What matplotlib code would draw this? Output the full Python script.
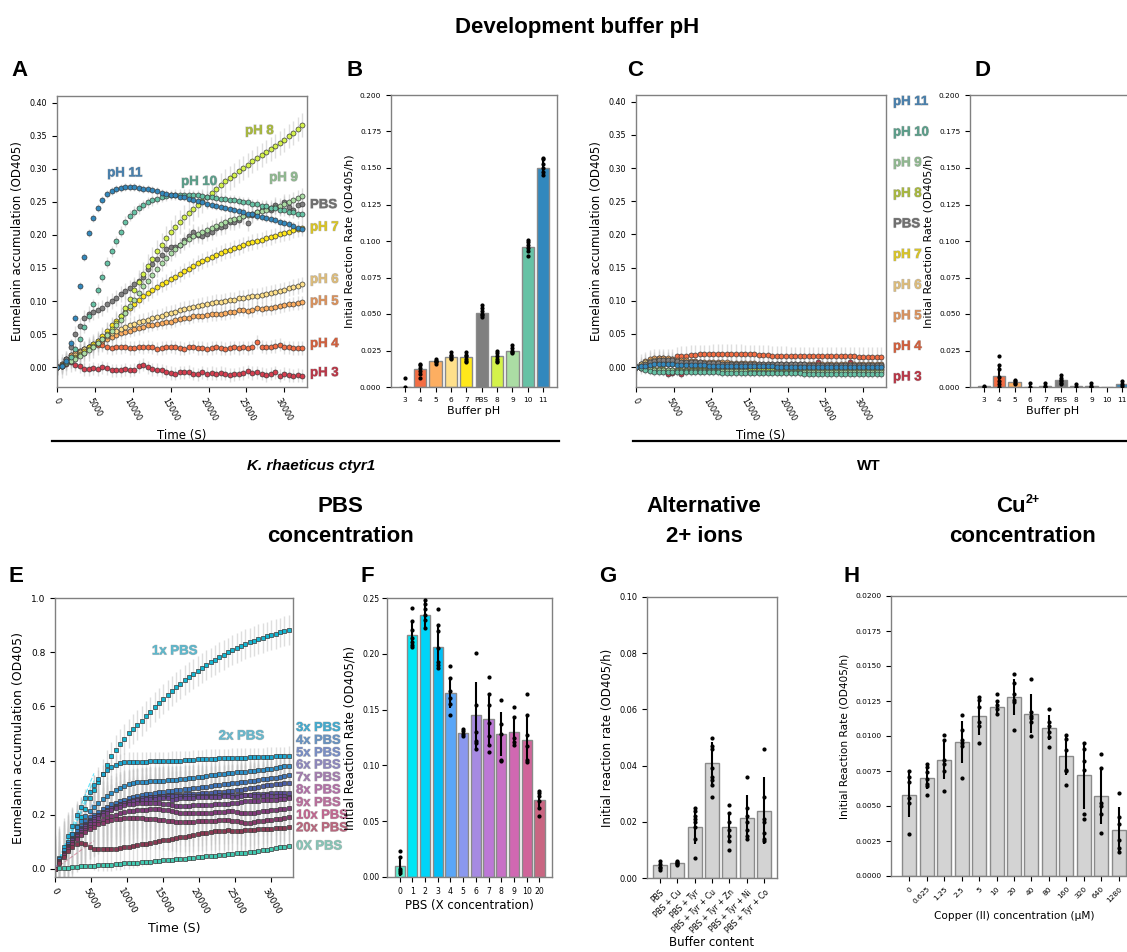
import numpy as np
import matplotlib.pyplot as plt
import matplotlib.patheffects as pe
from matplotlib.ticker import FormatStrFormatter

plt.rcParams['font.family'] = 'DejaVu Sans'
plt.rcParams['axes.edgecolor'] = '#808080'
plt.rcParams['axes.linewidth'] = 1.0

W, H = 1127, 952
STEP = 600  # seconds between plate reads

# ---------------- panel A: K. rhaeticus ctyr1, buffer pH time courses
ph_names = ["pH 3", "pH 4", "pH 5", "pH 6", "pH 7", "PBS", "pH 8", "pH 9", "pH 10", "pH 11"]
ph_colors = ['#d53e4f', '#f46d43', '#fdae61', '#fee08b', '#ffe81a', '#808080',
             '#d4f24a', '#abdda4', '#66c2a5', '#3288bd']
ph_text_colors = ['#b83848', '#d0603e', '#d8925e', '#dcbc7c', '#d8c428', '#707070',
                  '#a8b840', '#90b890', '#5c9e8a', '#4a80ac']

a_ph3 = [0, 0.002, 0.005, 0.008, 0.004, 0.001, -0.003, -0.003, -0.002, -0.003,
         0.000, -0.002, -0.005, -0.005, -0.005, -0.003, -0.005, -0.004, 0.001, 0.004,
         0.000, -0.003, -0.004, -0.005, -0.007, -0.009, -0.010, -0.008, -0.008, -0.007,
         -0.010, -0.011, -0.008, -0.010, -0.009, -0.010, -0.009, -0.010, -0.012, -0.011,
         -0.010, -0.009, -0.006, -0.009, -0.008, -0.010, -0.012, -0.010, -0.008, -0.013,
         -0.010, -0.012, -0.013, -0.012, -0.013]
a_ph4 = [0, 0.005, 0.012, 0.018, 0.022, 0.025, 0.028, 0.030, 0.032, 0.033,
         0.033, 0.030, 0.029, 0.030, 0.030, 0.031, 0.029, 0.029, 0.031, 0.030,
         0.031, 0.030, 0.028, 0.029, 0.030, 0.031, 0.030, 0.029, 0.028, 0.030,
         0.031, 0.029, 0.029, 0.028, 0.029, 0.030, 0.029, 0.028, 0.029, 0.030,
         0.029, 0.030, 0.029, 0.030, 0.038, 0.031, 0.030, 0.031, 0.032, 0.034,
         0.030, 0.030, 0.029, 0.029, 0.029]
a_ph5 = [0, 0.005, 0.012, 0.018, 0.022, 0.025, 0.028, 0.031, 0.034, 0.037,
         0.040, 0.043, 0.046, 0.049, 0.051, 0.053, 0.055, 0.057, 0.059, 0.061,
         0.063, 0.064, 0.066, 0.067, 0.068, 0.069, 0.071, 0.073, 0.075, 0.075,
         0.077, 0.078, 0.078, 0.079, 0.080, 0.080, 0.081, 0.082, 0.083, 0.084,
         0.087, 0.087, 0.085, 0.086, 0.090, 0.088, 0.089, 0.089, 0.091, 0.092,
         0.094, 0.095, 0.096, 0.097, 0.098]
a_ph6 = [0, 0.004, 0.010, 0.015, 0.019, 0.023, 0.027, 0.031, 0.035, 0.039,
         0.043, 0.047, 0.051, 0.055, 0.058, 0.061, 0.064, 0.066, 0.068, 0.070,
         0.072, 0.074, 0.076, 0.078, 0.080, 0.082, 0.084, 0.086, 0.088, 0.089,
         0.091, 0.092, 0.094, 0.095, 0.097, 0.098, 0.099, 0.100, 0.101, 0.102,
         0.104, 0.105, 0.106, 0.107, 0.108, 0.109, 0.110, 0.112, 0.113, 0.115,
         0.117, 0.119, 0.121, 0.123, 0.125]
a_ph7 = [0, 0.003, 0.008, 0.012, 0.016, 0.020, 0.025, 0.030, 0.035, 0.040,
         0.047, 0.055, 0.063, 0.070, 0.077, 0.084, 0.090, 0.096, 0.102, 0.107,
         0.112, 0.117, 0.121, 0.125, 0.129, 0.133, 0.137, 0.141, 0.145, 0.149,
         0.153, 0.157, 0.160, 0.163, 0.166, 0.169, 0.172, 0.175, 0.177, 0.180,
         0.182, 0.185, 0.187, 0.189, 0.191, 0.193, 0.195, 0.197, 0.199, 0.201,
         0.203, 0.205, 0.207, 0.209, 0.211]
a_pbs = [0, 0.002, 0.012, 0.030, 0.050, 0.062, 0.075, 0.080, 0.083, 0.086,
         0.090, 0.095, 0.100, 0.105, 0.110, 0.115, 0.120, 0.125, 0.130, 0.137,
         0.148, 0.156, 0.163, 0.170, 0.178, 0.182, 0.182, 0.184, 0.192, 0.199,
         0.205, 0.200, 0.198, 0.202, 0.205, 0.211, 0.212, 0.213, 0.220, 0.220,
         0.222, 0.228, 0.218, 0.230, 0.235, 0.238, 0.240, 0.238, 0.245, 0.240,
         0.250, 0.242, 0.238, 0.245, 0.246]
a_ph8 = [0, 0.002, 0.006, 0.010, 0.014, 0.018, 0.022, 0.027, 0.032, 0.037,
         0.043, 0.050, 0.058, 0.067, 0.078, 0.090, 0.103, 0.116, 0.129, 0.141,
         0.153, 0.164, 0.175, 0.185, 0.195, 0.204, 0.212, 0.220, 0.227, 0.233,
         0.239, 0.245, 0.251, 0.257, 0.263, 0.269, 0.275, 0.281, 0.286, 0.291,
         0.296, 0.301, 0.306, 0.311, 0.316, 0.321, 0.326, 0.330, 0.335, 0.339,
         0.344, 0.349, 0.354, 0.360, 0.366]
a_ph9 = [0, 0.002, 0.006, 0.010, 0.013, 0.017, 0.021, 0.026, 0.031, 0.036,
         0.042, 0.048, 0.055, 0.063, 0.072, 0.082, 0.092, 0.102, 0.112, 0.122,
         0.131, 0.140, 0.149, 0.157, 0.165, 0.172, 0.178, 0.184, 0.189, 0.194,
         0.198, 0.202, 0.205, 0.208, 0.211, 0.214, 0.217, 0.219, 0.222, 0.224,
         0.226, 0.228, 0.230, 0.232, 0.234, 0.236, 0.238, 0.240, 0.242, 0.244,
         0.247, 0.250, 0.253, 0.256, 0.259]
a_ph10 = [0, 0.002, 0.008, 0.016, 0.028, 0.042, 0.060, 0.078, 0.095, 0.117,
          0.137, 0.158, 0.175, 0.190, 0.205, 0.220, 0.229, 0.235, 0.240, 0.245,
          0.249, 0.252, 0.255, 0.257, 0.259, 0.260, 0.261, 0.261, 0.261, 0.261,
          0.260, 0.260, 0.259, 0.258, 0.257, 0.256, 0.255, 0.254, 0.253, 0.252,
          0.251, 0.250, 0.249, 0.247, 0.246, 0.244, 0.243, 0.241, 0.240, 0.238,
          0.237, 0.235, 0.234, 0.232, 0.231]
a_ph11 = [0, 0.001, 0.010, 0.036, 0.075, 0.123, 0.167, 0.203, 0.225, 0.241,
          0.253, 0.262, 0.267, 0.270, 0.271, 0.272, 0.272, 0.272, 0.271, 0.270,
          0.269, 0.268, 0.266, 0.264, 0.262, 0.261, 0.260, 0.258, 0.257, 0.255,
          0.253, 0.251, 0.249, 0.247, 0.245, 0.244, 0.242, 0.241, 0.239, 0.237,
          0.236, 0.234, 0.232, 0.231, 0.229, 0.227, 0.226, 0.224, 0.222, 0.220,
          0.218, 0.216, 0.214, 0.211, 0.209]
a_series = [a_ph3, a_ph4, a_ph5, a_ph6, a_ph7, a_pbs, a_ph8, a_ph9, a_ph10, a_ph11]
a_err = [0.010, 0.010, 0.010, 0.012, 0.012, 0.012, 0.018, 0.012, 0.008, 0.006]

# ---------------- panel B: initial rates, ctyr1
b_labels = ["3", "4", "5", "6", "7", "PBS", "8", "9", "10", "11"]
b_heights = [0.0, 0.0125, 0.0175, 0.0205, 0.0205, 0.051, 0.021, 0.025, 0.096, 0.150]
b_err = [0.0, 0.004, 0.001, 0.002, 0.003, 0.004, 0.003, 0.003, 0.004, 0.005]
b_dots = [[0.006, 0.0],
          [0.016, 0.015, 0.013, 0.011, 0.009, 0.006],
          [0.019, 0.018, 0.017, 0.016, 0.018],
          [0.024, 0.022, 0.021, 0.020, 0.019],
          [0.024, 0.022, 0.021, 0.019, 0.018, 0.017],
          [0.056, 0.054, 0.052, 0.050, 0.049, 0.048],
          [0.025, 0.023, 0.021, 0.019, 0.018, 0.017],
          [0.029, 0.027, 0.025, 0.024, 0.023],
          [0.101, 0.099, 0.097, 0.095, 0.093, 0.090],
          [0.157, 0.156, 0.153, 0.150, 0.147, 0.145]]

# ---------------- panel C: WT, buffer pH time courses
c_ph3 = [0.000, -0.001, -0.002, -0.003, -0.004, -0.004, -0.006, -0.011, -0.009, -0.004,
         -0.011, -0.005, -0.004, -0.005, -0.004, -0.004, -0.004, -0.004, -0.003, -0.003,
         -0.003, -0.004, -0.003, -0.003, -0.002, -0.003, -0.003, -0.004, -0.003, -0.003,
         -0.003, -0.002, -0.003, -0.003, -0.004, -0.003, -0.003, -0.003, -0.002, -0.003,
         0.007, -0.003, -0.003, -0.004, -0.003, -0.003, -0.003, 0.008, -0.003, -0.003,
         -0.002, -0.003, -0.003, -0.004, -0.003]
c_ph4 = [0.000, 0.004, 0.008, 0.011, 0.012, 0.013, 0.013, 0.012, 0.012, 0.016,
         0.017, 0.017, 0.018, 0.018, 0.019, 0.019, 0.019, 0.020, 0.020, 0.020,
         0.020, 0.020, 0.020, 0.020, 0.019, 0.019, 0.019, 0.018, 0.018, 0.018,
         0.017, 0.017, 0.017, 0.017, 0.016, 0.016, 0.016, 0.016, 0.016, 0.016,
         0.016, 0.016, 0.016, 0.016, 0.016, 0.016, 0.016, 0.016, 0.016, 0.015,
         0.015, 0.015, 0.015, 0.015, 0.015]
c_ph5 = [0.000, 0.005, 0.009, 0.012, 0.013, 0.014, 0.014, 0.013, 0.012, 0.011,
         0.010, 0.010, 0.009, 0.009, 0.008, 0.008, 0.008, 0.007, 0.007, 0.007,
         0.007, 0.006, 0.006, 0.006, 0.006, 0.006, 0.006, 0.005, 0.005, 0.005,
         0.005, 0.005, 0.005, 0.005, 0.005, 0.005, 0.005, 0.005, 0.004, 0.004,
         0.004, 0.004, 0.004, 0.004, 0.004, 0.004, 0.004, 0.004, 0.004, 0.004,
         0.004, 0.004, 0.004, 0.004, 0.004]
c_ph6 = [0.000, 0.004, 0.007, 0.009, 0.010, 0.011, 0.011, 0.010, 0.009, 0.008,
         0.007, 0.007, 0.006, 0.006, 0.005, 0.005, 0.005, 0.005, 0.004, 0.004,
         0.004, 0.004, 0.004, 0.004, 0.003, 0.003, 0.003, 0.003, 0.003, 0.003,
         0.003, 0.003, 0.003, 0.003, 0.003, 0.003, 0.003, 0.002, 0.002, 0.002,
         0.002, 0.002, 0.002, 0.002, 0.002, 0.002, 0.002, 0.002, 0.002, 0.002,
         0.002, 0.002, 0.002, 0.002, 0.002]
c_ph7 = [0.000, 0.002, 0.004, 0.005, 0.006, 0.006, 0.005, 0.005, 0.004, 0.004,
         0.003, 0.003, 0.003, 0.002, 0.002, 0.002, 0.002, 0.002, 0.002, 0.001,
         0.001, 0.001, 0.001, 0.001, 0.001, 0.001, 0.001, 0.001, 0.001, 0.001,
         0.000, 0.000, 0.000, 0.000, 0.000, 0.000, 0.000, 0.000, 0.000, 0.000,
         0.000, 0.000, 0.000, 0.000, 0.000, 0.000, 0.000, 0.000, 0.000, 0.000,
         0.000, 0.000, 0.000, 0.000, 0.000]
c_pbs = [0.000, 0.002, 0.004, 0.007, 0.009, 0.010, 0.011, 0.011, 0.010, 0.009,
         0.008, 0.008, 0.007, 0.007, 0.007, 0.006, 0.006, 0.006, 0.006, 0.005,
         0.005, 0.005, 0.005, 0.005, 0.005, 0.005, 0.004, 0.004, 0.004, 0.004,
         0.004, 0.004, 0.004, 0.004, 0.004, 0.004, 0.004, 0.004, 0.003, 0.003,
         0.003, 0.003, 0.003, 0.003, 0.003, 0.003, 0.003, 0.003, 0.003, 0.003,
         0.003, 0.003, 0.003, 0.003, 0.003]
c_ph8 = [0.000, 0.000, -0.001, -0.002, -0.003, -0.003, -0.003, -0.004, -0.004, -0.004,
         -0.004, -0.004, -0.004, -0.004, -0.004, -0.004, -0.004, -0.004, -0.004, -0.004,
         -0.004, -0.004, -0.004, -0.004, -0.005, -0.005, -0.005, -0.005, -0.005, -0.005,
         -0.005, -0.005, -0.005, -0.005, -0.005, -0.005, -0.005, -0.005, -0.005, -0.005,
         -0.005, -0.005, -0.005, -0.005, -0.005, -0.005, -0.005, -0.005, -0.005, -0.005,
         -0.005, -0.005, -0.005, -0.005, -0.005]
c_ph9 = [0.000, -0.001, -0.002, -0.003, -0.004, -0.005, -0.005, -0.005, -0.005, -0.006,
         -0.006, -0.006, -0.006, -0.006, -0.006, -0.006, -0.006, -0.006, -0.006, -0.006,
         -0.006, -0.006, -0.006, -0.006, -0.006, -0.007, -0.007, -0.007, -0.007, -0.007,
         -0.007, -0.007, -0.007, -0.007, -0.007, -0.007, -0.007, -0.007, -0.007, -0.007,
         -0.007, -0.007, -0.007, -0.007, -0.007, -0.007, -0.007, -0.007, -0.007, -0.007,
         -0.007, -0.007, -0.007, -0.007, -0.007]
c_ph10 = [0.000, -0.002, -0.004, -0.006, -0.007, -0.008, -0.008, -0.008, -0.008, -0.008,
          -0.008, -0.008, -0.008, -0.008, -0.008, -0.008, -0.008, -0.008, -0.008, -0.009,
          -0.009, -0.009, -0.009, -0.009, -0.009, -0.009, -0.009, -0.009, -0.009, -0.009,
          -0.009, -0.009, -0.009, -0.009, -0.009, -0.009, -0.009, -0.010, -0.010, -0.010,
          -0.010, -0.010, -0.010, -0.010, -0.010, -0.010, -0.010, -0.010, -0.010, -0.010,
          -0.010, -0.010, -0.010, -0.010, -0.010]
c_ph11 = [0.000, 0.001, 0.002, 0.003, 0.004, 0.004, 0.004, 0.004, 0.004, 0.003,
          0.003, 0.003, 0.003, 0.003, 0.003, 0.003, 0.002, 0.002, 0.002, 0.002,
          0.002, 0.002, 0.002, 0.001, 0.001, 0.001, 0.001, 0.001, 0.001, 0.001,
          0.001, 0.000, 0.000, 0.000, 0.000, 0.000, 0.000, 0.000, 0.000, 0.000,
          0.000, 0.000, 0.000, 0.000, 0.000, 0.000, 0.000, 0.000, 0.000, 0.000,
          0.000, 0.000, 0.000, 0.000, 0.000]
c_series = [c_ph3, c_ph4, c_ph5, c_ph6, c_ph7, c_pbs, c_ph8, c_ph9, c_ph10, c_ph11]
c_err = [0.006, 0.015, 0.010, 0.008, 0.006, 0.010, 0.006, 0.006, 0.006, 0.006]

# ---------------- panel D: initial rates, WT
d_heights = [0.0005, 0.0075, 0.0035, 0.0003, 0.0005, 0.0045, 0.0005, 0.0008, 0.0, 0.002]
d_err = [0.0005, 0.006, 0.0015, 0.001, 0.001, 0.002, 0.0008, 0.001, 0.0, 0.001]
d_dots = [[0.001, 0.0],
          [0.021, 0.015, 0.012, 0.007, 0.004, 0.002, 0.0],
          [0.005, 0.004, 0.003, 0.002],
          [0.003, 0.0],
          [0.003, 0.001, 0.0],
          [0.008, 0.006, 0.005, 0.004, 0.003, 0.002],
          [0.002, 0.0],
          [0.003, 0.001, 0.0],
          [],
          [0.004, 0.002, 0.001]]

# ---------------- panel E: PBS concentration time courses (order 0,1,2,...,10,20)
e_names = ["0X PBS", "1x PBS", "2x PBS", "3x PBS", "4x PBS", "5x PBS", "6x PBS",
           "7x PBS", "8x PBS", "9x PBS", "10x PBS", "20x PBS"]
e_marker_colors = ['#40c8b0', '#12b6d2', '#1aa6d0', '#2a8ec8', '#3a74ba', '#4a5ea8',
                   '#5a4c98', '#6a4490', '#783c82', '#803878', '#88386a', '#8a3852']
e_text_colors = ['#88c4b6', '#5fb8cc', '#6ab8cc', '#46aacd', '#6a93c0', '#7a8ec4',
                 '#8e88bc', '#a27eae', '#b072a6', '#b8709c', '#c06890', '#b8687e']
e_0 = [0, 0.002, 0.003, 0.004, 0.006, 0.007, 0.009, 0.010, 0.011, 0.012,
       0.013, 0.014, 0.015, 0.016, 0.017, 0.018, 0.020, 0.021, 0.022, 0.023,
       0.025, 0.026, 0.027, 0.028, 0.030, 0.031, 0.032, 0.034, 0.035, 0.037,
       0.038, 0.040, 0.041, 0.043, 0.044, 0.046, 0.047, 0.049, 0.050, 0.052,
       0.054, 0.055, 0.057, 0.058, 0.060, 0.062, 0.064, 0.066, 0.068, 0.070,
       0.073, 0.076, 0.079, 0.082, 0.085]
e_1 = [0, 0.030, 0.060, 0.095, 0.130, 0.160, 0.190, 0.220, 0.260, 0.290,
       0.320, 0.350, 0.385, 0.415, 0.440, 0.460, 0.480, 0.500, 0.515, 0.530,
       0.545, 0.563, 0.580, 0.597, 0.613, 0.628, 0.643, 0.657, 0.670, 0.683,
       0.696, 0.708, 0.720, 0.730, 0.741, 0.752, 0.762, 0.772, 0.781, 0.790,
       0.799, 0.807, 0.815, 0.822, 0.829, 0.836, 0.842, 0.848, 0.853, 0.858,
       0.863, 0.868, 0.873, 0.878, 0.882]
e_2 = [0, 0.040, 0.080, 0.120, 0.160, 0.200, 0.230, 0.260, 0.285, 0.310,
       0.330, 0.350, 0.365, 0.375, 0.385, 0.390, 0.393, 0.395, 0.395, 0.396,
       0.396, 0.396, 0.397, 0.397, 0.397, 0.398, 0.398, 0.399, 0.399, 0.400,
       0.401, 0.402, 0.403, 0.404, 0.405, 0.406, 0.406, 0.407, 0.408, 0.408,
       0.409, 0.410, 0.410, 0.411, 0.411, 0.412, 0.412, 0.413, 0.413, 0.414,
       0.414, 0.415, 0.416, 0.416, 0.417]
e_3 = [0, 0.035, 0.070, 0.100, 0.130, 0.155, 0.178, 0.196, 0.212, 0.228,
       0.243, 0.258, 0.270, 0.281, 0.291, 0.299, 0.306, 0.312, 0.316, 0.319,
       0.321, 0.322, 0.323, 0.324, 0.325, 0.326, 0.327, 0.328, 0.329, 0.331,
       0.333, 0.335, 0.337, 0.339, 0.341, 0.343, 0.345, 0.347, 0.349, 0.351,
       0.353, 0.355, 0.357, 0.358, 0.359, 0.360, 0.362, 0.364, 0.366, 0.368,
       0.370, 0.373, 0.375, 0.378, 0.380]
e_4 = [0, 0.030, 0.060, 0.090, 0.115, 0.140, 0.160, 0.175, 0.190, 0.200,
       0.210, 0.220, 0.230, 0.238, 0.245, 0.250, 0.255, 0.260, 0.264, 0.268,
       0.272, 0.275, 0.278, 0.280, 0.282, 0.284, 0.286, 0.288, 0.290, 0.292,
       0.294, 0.296, 0.298, 0.300, 0.302, 0.304, 0.306, 0.308, 0.310, 0.312,
       0.314, 0.316, 0.318, 0.320, 0.322, 0.324, 0.326, 0.328, 0.330, 0.332,
       0.334, 0.337, 0.340, 0.343, 0.345]
e_5 = [0, 0.030, 0.060, 0.085, 0.110, 0.130, 0.150, 0.165, 0.180, 0.190,
       0.200, 0.210, 0.218, 0.225, 0.232, 0.238, 0.243, 0.248, 0.252, 0.256,
       0.259, 0.262, 0.265, 0.267, 0.269, 0.270, 0.271, 0.272, 0.273, 0.274,
       0.275, 0.276, 0.277, 0.278, 0.279, 0.280, 0.281, 0.282, 0.283, 0.285,
       0.287, 0.289, 0.291, 0.293, 0.295, 0.297, 0.300, 0.302, 0.305, 0.308,
       0.310, 0.312, 0.314, 0.316, 0.318]
e_6 = [0, 0.030, 0.060, 0.085, 0.110, 0.130, 0.148, 0.163, 0.177, 0.190,
       0.200, 0.210, 0.218, 0.226, 0.233, 0.240, 0.245, 0.250, 0.254, 0.258,
       0.261, 0.263, 0.265, 0.266, 0.267, 0.268, 0.268, 0.269, 0.269, 0.270,
       0.270, 0.270, 0.270, 0.270, 0.270, 0.270, 0.270, 0.270, 0.271, 0.271,
       0.272, 0.272, 0.273, 0.273, 0.274, 0.274, 0.275, 0.276, 0.277, 0.278,
       0.279, 0.280, 0.280, 0.280, 0.280]
e_7 = [0, 0.030, 0.058, 0.083, 0.105, 0.125, 0.143, 0.158, 0.172, 0.185,
       0.196, 0.206, 0.215, 0.223, 0.230, 0.236, 0.242, 0.246, 0.250, 0.253,
       0.255, 0.257, 0.258, 0.259, 0.260, 0.260, 0.262, 0.255, 0.258, 0.260,
       0.262, 0.262, 0.262, 0.264, 0.265, 0.265, 0.266, 0.266, 0.267, 0.268,
       0.268, 0.267, 0.266, 0.270, 0.272, 0.273, 0.270, 0.268, 0.270, 0.272,
       0.270, 0.270, 0.270, 0.270, 0.265]
e_8 = [0, 0.028, 0.056, 0.080, 0.100, 0.120, 0.137, 0.152, 0.166, 0.178,
       0.189, 0.199, 0.208, 0.216, 0.223, 0.229, 0.234, 0.238, 0.241, 0.243,
       0.244, 0.245, 0.245, 0.244, 0.243, 0.241, 0.239, 0.236, 0.233, 0.232,
       0.232, 0.233, 0.234, 0.235, 0.236, 0.236, 0.237, 0.238, 0.239, 0.240,
       0.241, 0.243, 0.245, 0.247, 0.249, 0.250, 0.251, 0.252, 0.253, 0.254,
       0.255, 0.256, 0.257, 0.258, 0.260]
e_9 = [0, 0.028, 0.055, 0.078, 0.098, 0.115, 0.130, 0.143, 0.155, 0.165,
       0.174, 0.182, 0.189, 0.195, 0.200, 0.205, 0.209, 0.212, 0.215, 0.217,
       0.218, 0.219, 0.220, 0.220, 0.220, 0.219, 0.218, 0.215, 0.210, 0.207,
       0.205, 0.205, 0.205, 0.205, 0.206, 0.207, 0.208, 0.210, 0.210, 0.210,
       0.212, 0.214, 0.210, 0.208, 0.205, 0.205, 0.207, 0.210, 0.212, 0.214,
       0.216, 0.218, 0.220, 0.222, 0.224]
e_10 = [0, 0.027, 0.052, 0.074, 0.093, 0.110, 0.124, 0.136, 0.147, 0.156,
        0.164, 0.171, 0.176, 0.180, 0.183, 0.185, 0.186, 0.187, 0.187, 0.187,
        0.186, 0.185, 0.184, 0.183, 0.182, 0.180, 0.178, 0.175, 0.173, 0.172,
        0.172, 0.173, 0.174, 0.175, 0.176, 0.177, 0.178, 0.178, 0.179, 0.180,
        0.180, 0.178, 0.175, 0.172, 0.170, 0.170, 0.172, 0.175, 0.177, 0.179,
        0.181, 0.183, 0.185, 0.187, 0.190]
e_20 = [0, 0.022, 0.045, 0.065, 0.080, 0.090, 0.095, 0.090, 0.082, 0.075,
        0.073, 0.072, 0.072, 0.073, 0.075, 0.077, 0.079, 0.081, 0.084, 0.087,
        0.090, 0.093, 0.096, 0.099, 0.102, 0.105, 0.108, 0.110, 0.113, 0.116,
        0.119, 0.122, 0.125, 0.128, 0.131, 0.134, 0.136, 0.138, 0.140, 0.141,
        0.142, 0.140, 0.138, 0.140, 0.142, 0.144, 0.145, 0.146, 0.147, 0.148,
        0.149, 0.150, 0.151, 0.152, 0.153]
e_series = [e_0, e_1, e_2, e_3, e_4, e_5, e_6, e_7, e_8, e_9, e_10, e_20]
e_err = [0.006, 0.055, 0.035, 0.05, 0.07, 0.09, 0.11, 0.12, 0.13, 0.12, 0.11, 0.08]

# ---------------- panel F: initial rates vs PBS concentration
f_labels = ["0", "1", "2", "3", "4", "5", "6", "7", "8", "9", "10", "20"]
f_colors = ['#5ff0d2', '#00e6f5', '#00d4f8', '#00bff6', '#5aa6f7', '#8a98ef',
            '#a68ae2', '#bc78d6', '#c870c6', '#d068b2', '#d0649a', '#c96682']
f_heights = [0.010, 0.217, 0.235, 0.206, 0.165, 0.129, 0.145, 0.142, 0.128, 0.130, 0.123, 0.069]
f_err = [0.009, 0.012, 0.013, 0.020, 0.014, 0.003, 0.030, 0.023, 0.020, 0.013, 0.022, 0.007]
f_dots = [[0.023, 0.018, 0.007, 0.005, 0.004],
          [0.241, 0.229, 0.221, 0.214, 0.211, 0.208, 0.206],
          [0.248, 0.245, 0.240, 0.235, 0.230, 0.223],
          [0.240, 0.226, 0.220, 0.205, 0.193, 0.190, 0.187],
          [0.189, 0.178, 0.167, 0.160, 0.155, 0.145],
          [0.133, 0.131, 0.128, 0.126],
          [0.201, 0.154, 0.130, 0.122, 0.120, 0.115],
          [0.179, 0.164, 0.154, 0.138, 0.126, 0.118, 0.112],
          [0.159, 0.137, 0.128, 0.105, 0.104],
          [0.152, 0.143, 0.125, 0.121, 0.118],
          [0.164, 0.145, 0.127, 0.117, 0.105, 0.103],
          [0.077, 0.075, 0.073, 0.068, 0.062, 0.055]]

# ---------------- panel G: alternative 2+ ions
g_labels = ["PBS", "PBS + Cu", "PBS + Tyr", "PBS + Tyr + Cu", "PBS + Tyr + Zn",
            "PBS + Tyr + Ni", "PBS + Tyr + Co"]
g_heights = [0.0045, 0.0053, 0.0182, 0.041, 0.018, 0.0215, 0.024]
g_err = [0.001, 0.0005, 0.006, 0.0075, 0.0055, 0.008, 0.012]
g_dots = [[0.006, 0.005, 0.004, 0.0035, 0.003],
          [0.0062, 0.0058, 0.0052, 0.005, 0.0047],
          [0.025, 0.024, 0.022, 0.021, 0.020, 0.018, 0.014, 0.007],
          [0.050, 0.047, 0.046, 0.039, 0.036, 0.035, 0.033, 0.029],
          [0.026, 0.023, 0.020, 0.017, 0.015, 0.013, 0.010],
          [0.036, 0.025, 0.022, 0.020, 0.017, 0.015, 0.014],
          [0.046, 0.029, 0.021, 0.020, 0.016, 0.014, 0.013]]

# ---------------- panel H: Cu2+ concentration
h_labels = ["0", "0.625", "1.25", "2.5", "5", "10", "20", "40", "80", "160", "320", "640", "1280"]
h_heights = [0.0058, 0.0070, 0.0083, 0.0096, 0.0114, 0.0121, 0.0128, 0.0116, 0.0106,
             0.0086, 0.0072, 0.0057, 0.0033]
h_err = [0.0016, 0.0008, 0.0014, 0.0015, 0.0013, 0.0005, 0.0013, 0.0014, 0.0009,
         0.0014, 0.0024, 0.0020, 0.0016]
h_dots = [[0.0075, 0.0071, 0.0067, 0.0056, 0.0052, 0.0030],
          [0.0080, 0.0078, 0.0074, 0.0069, 0.0066, 0.0064, 0.0058],
          [0.0101, 0.0097, 0.0083, 0.0080, 0.0075, 0.0061],
          [0.0115, 0.0104, 0.0097, 0.0095, 0.0093, 0.0070],
          [0.0128, 0.0126, 0.0121, 0.0110, 0.0107, 0.0095],
          [0.0130, 0.0125, 0.0122, 0.0119, 0.0116],
          [0.0144, 0.0138, 0.0130, 0.0126, 0.0124, 0.0104],
          [0.0141, 0.0117, 0.0114, 0.0113, 0.0110, 0.0100],
          [0.0119, 0.0110, 0.0107, 0.0103, 0.0099, 0.0092],
          [0.0101, 0.0098, 0.0090, 0.0076, 0.0075, 0.0065],
          [0.0095, 0.0091, 0.0082, 0.0076, 0.0044, 0.0041],
          [0.0087, 0.0077, 0.0052, 0.0050, 0.0044, 0.0031],
          [0.0059, 0.0042, 0.0037, 0.0026, 0.0020, 0.0017]]


fig = plt.figure(figsize=(W / 100, H / 100), dpi=100)


def add_ax(x0, y0, x1, y1):
    # pixel box (left, top, right, bottom) -> figure fraction
    return fig.add_axes([x0 / W, 1 - y1 / H, (x1 - x0) / W, (y1 - y0) / H])


def ftext(x, y, s, size=16, style='normal', ha='center'):
    fig.text(x / W, 1 - y / H, s, ha=ha, va='center', family='Liberation Sans',
             weight='bold', size=size, style=style)


outline = [pe.withStroke(linewidth=1.0, foreground=(0, 0, 0, 0.18))]


def curves(ax, series, fills, errs, marker, ms):
    for y, e in zip(series, errs):
        t = STEP * np.arange(len(y))
        ax.errorbar(t, y, yerr=e, fmt='none', ecolor='#c4c4c4', elinewidth=1,
                    alpha=0.55, zorder=1)
    for y, c in zip(series, fills):
        t = STEP * np.arange(len(y))
        ax.plot(t, y, linestyle='none', marker=marker, ms=ms, mfc=c, mec='#3a3a3a',
                mew=0.5, zorder=2)
    ax.set_xlim(0, 33000)
    ax.set_xticks(np.arange(0, 30001, 5000))
    ax.tick_params(axis='x', labelrotation=-60)


def bars(ax, labels, heights, errs, dots, colors):
    x = np.arange(len(labels))
    ax.bar(x, heights, width=0.8, color=colors, edgecolor='#8a8a8a', linewidth=1, zorder=1)
    ax.errorbar(x, heights, yerr=errs, fmt='none', ecolor='black', elinewidth=1.5, zorder=3)
    for xi, d in zip(x, dots):
        ax.plot(np.full(len(d), xi), d, 'o', color='black', ms=2, zorder=4)
    ax.set_xticks(x)
    ax.set_xticklabels(labels)


# ---- A
axA = add_ax(57, 96, 307, 387)
curves(axA, a_series, ph_colors, a_err, 'o', 3.6)
axA.set_ylim(-0.03, 0.41)
axA.set_yticks(np.arange(0, 0.401, 0.05))
axA.yaxis.set_major_formatter(FormatStrFormatter('%.2f'))
axA.tick_params(labelsize=5.8)
axA.set_ylabel("Eumelanin accumulation (OD405)", fontsize=8.5)
axA.set_xlabel("Time (S)", fontsize=8.5)
inside = {"pH 11": (8950, 0.293), "pH 10": (18750, 0.280), "pH 8": (26700, 0.357),
          "pH 9": (29900, 0.286)}
outside = {"PBS": 0.245, "pH 7": 0.211, "pH 6": 0.132, "pH 5": 0.099, "pH 4": 0.035,
           "pH 3": -0.009}
for name, col in zip(ph_names, ph_text_colors):
    if name in inside:
        xx, yy = inside[name]
        axA.text(xx, yy, name, color=col, ha='center', va='center', fontsize=9.5,
                 family='Liberation Sans', weight='bold', path_effects=outline)
    else:
        axA.text(1.012, outside[name], name, color=col, ha='left', va='center',
                 fontsize=9.5, family='Liberation Sans', weight='bold',
                 transform=axA.get_yaxis_transform(), path_effects=outline)

# ---- B
axB = add_ax(391, 95, 557, 387)
bars(axB, b_labels, b_heights, b_err, b_dots, ph_colors)
axB.set_ylim(0, 0.2)
axB.set_yticks(np.arange(0, 0.2001, 0.025))
axB.yaxis.set_major_formatter(FormatStrFormatter('%.3f'))
axB.tick_params(labelsize=5.3)
axB.set_ylabel("Initial Reaction Rate (OD405/h)", fontsize=8)
axB.set_xlabel("Buffer pH", fontsize=8, labelpad=2)

# ---- C
axC = add_ax(636, 95, 886, 387)
curves(axC, c_series, ph_colors, c_err, 'o', 3.6)
axC.set_ylim(-0.03, 0.41)
axC.set_yticks(np.arange(0, 0.401, 0.05))
axC.yaxis.set_major_formatter(FormatStrFormatter('%.2f'))
axC.tick_params(labelsize=5.8)
axC.set_ylabel("Eumelanin accumulation (OD405)", fontsize=8.5)
axC.set_xlabel("Time (S)", fontsize=8.5)
for i, (name, col) in enumerate(zip(ph_names[::-1], ph_text_colors[::-1])):
    ypx = 102 + 30.6 * i
    axC.text(1.028, (387 - ypx) / 292, name, color=col, ha='left', va='center',
             fontsize=9.5, family='Liberation Sans', weight='bold',
             transform=axC.transAxes, path_effects=outline)

# ---- D
axD = add_ax(970, 95, 1136, 387)
bars(axD, b_labels, d_heights, d_err, d_dots, ph_colors)
axD.set_ylim(0, 0.2)
axD.set_yticks(np.arange(0, 0.2001, 0.025))
axD.yaxis.set_major_formatter(FormatStrFormatter('%.3f'))
axD.tick_params(labelsize=5.3)
axD.set_ylabel("Initial Reaction Rate (OD405/h)", fontsize=8)
axD.set_xlabel("Buffer pH", fontsize=8, labelpad=2)

# ---- E
axE = add_ax(55, 598, 293, 877)
for r, c in zip(f_heights[1:], f_colors[1:]):
    tt = np.array([0, 5400])
    axE.plot(tt, r * tt / 3600, '--', color=c, lw=0.8, alpha=0.6, zorder=1.5)
curves(axE, e_series, e_marker_colors, e_err, 's', 3.2)
axE.set_ylim(-0.03, 1.0)
axE.set_yticks(np.arange(0, 1.01, 0.2))
axE.yaxis.set_major_formatter(FormatStrFormatter('%.1f'))
axE.tick_params(labelsize=6.5)
axE.set_ylabel("Eumelanin accumulation (OD405)", fontsize=9)
axE.set_xlabel("Time (S)", fontsize=9)
axE.text(16600, 0.803, e_names[1], color=e_text_colors[1], ha='center', va='center',
         fontsize=9.5, family='Liberation Sans', weight='bold', path_effects=outline)
axE.text(25850, 0.489, e_names[2], color=e_text_colors[2], ha='center', va='center',
         fontsize=9.5, family='Liberation Sans', weight='bold', path_effects=outline)
right_y = [0.52, 0.473, 0.427, 0.382, 0.336, 0.29, 0.243, 0.197, 0.15]
for name, col, yy in zip(e_names[3:], e_text_colors[3:], right_y):
    axE.text(1.013, yy, name, color=col, ha='left', va='center', fontsize=9.3,
             family='Liberation Sans', weight='bold',
             transform=axE.get_yaxis_transform(), path_effects=outline)
axE.text(1.013, 0.083, e_names[0], color=e_text_colors[0], ha='left', va='center',
         fontsize=9.3, family='Liberation Sans', weight='bold',
         transform=axE.get_yaxis_transform(), path_effects=outline)

# ---- F
axF = add_ax(387, 598, 552, 877)
bars(axF, f_labels, f_heights, f_err, f_dots, f_colors)
axF.set_ylim(0, 0.25)
axF.set_yticks(np.arange(0, 0.2501, 0.05))
axF.yaxis.set_major_formatter(FormatStrFormatter('%.2f'))
axF.tick_params(labelsize=5.6)
axF.tick_params(axis='y', pad=2)
axF.set_ylabel("Initial Reaction Rate (OD405/h)", fontsize=8.5)
axF.yaxis.set_label_coords(-0.185, 0.5)
axF.set_xlabel("PBS (X concentration)", fontsize=8.5, labelpad=2)

# ---- G
axG = add_ax(647, 597, 777, 878)
bars(axG, g_labels, g_heights, g_err, g_dots, ['#d3d3d3'] * len(g_labels))
axG.set_ylim(0, 0.10)
axG.set_yticks(np.arange(0, 0.1001, 0.02))
axG.yaxis.set_major_formatter(FormatStrFormatter('%.2f'))
axG.tick_params(labelsize=5.9)
axG.tick_params(axis='x', labelsize=5.5)
plt.setp(axG.get_xticklabels(), rotation=45, ha='right', rotation_mode='anchor')
axG.set_ylabel("Initial reaction rate (OD405/h)", fontsize=8.5)
axG.set_xlabel("Buffer content", fontsize=8.5, labelpad=1)

# ---- H
axH = add_ax(891, 596, 1137, 876)
bars(axH, h_labels, h_heights, h_err, h_dots, ['#d3d3d3'] * len(h_labels))
axH.set_ylim(0, 0.02)
axH.set_yticks(np.arange(0, 0.02001, 0.0025))
axH.yaxis.set_major_formatter(FormatStrFormatter('%.4f'))
axH.tick_params(labelsize=5.4)
plt.setp(axH.get_xticklabels(), rotation=45, ha='right', rotation_mode='anchor')
axH.set_ylabel("Initial Reaction Rate (OD405/h)", fontsize=7.6)
axH.set_xlabel("Copper (II) concentration (\u00b5M)", fontsize=7.6)

# ---- titles, panel letters, group bars
ftext(577, 27, "Development buffer pH")
for letter, x, y in [("A", 20, 70), ("B", 355, 70), ("C", 635, 70), ("D", 982, 70),
                     ("E", 16, 577), ("F", 367, 577), ("G", 608, 577), ("H", 852, 577)]:
    ftext(x, y, letter, size=16)

fig.add_artist(plt.Line2D([52 / W, 559 / W], [1 - 441 / H, 1 - 441 / H], color='black', lw=1.6))
fig.add_artist(plt.Line2D([633 / W, 1127 / W], [1 - 441 / H, 1 - 441 / H], color='black', lw=1.6))
ftext(311, 466, "K. rhaeticus ctyr1", size=11, style='italic')
ftext(869, 466, "WT", size=11)

ftext(340, 507, "PBS")
ftext(340, 537, "concentration")
ftext(704, 507, "Alternative")
ftext(704, 537, "2+ ions")
ftext(1026, 507, "Cu", ha='right')
ftext(1026, 500, "2+", size=9, ha='left')
ftext(1022, 537, "concentration")

fig.savefig("out.png", dpi=100)
